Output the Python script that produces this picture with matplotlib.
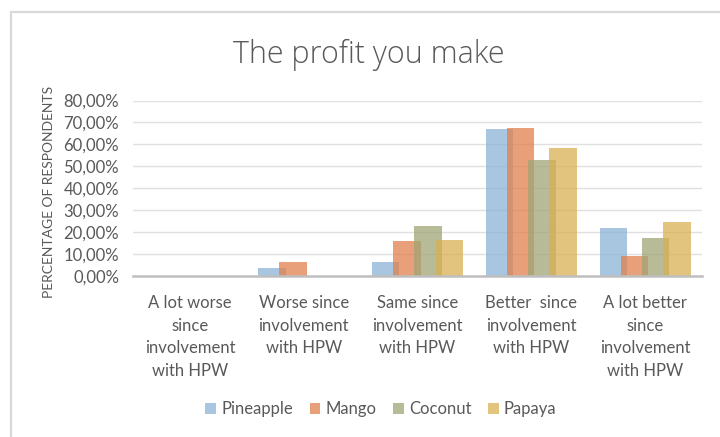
import matplotlib
matplotlib.use("Agg")
import matplotlib.pyplot as plt
import numpy as np
from matplotlib.patches import Rectangle
from matplotlib.ticker import FuncFormatter

categories = ["A lot worse\nsince\ninvolvement\nwith HPW",
              "Worse since\ninvolvement\nwith HPW",
              "Same since\ninvolvement\nwith HPW",
              "Better  since\ninvolvement\nwith HPW",
              "A lot better\nsince\ninvolvement\nwith HPW"]
series_names = ["Pineapple", "Mango", "Coconut", "Papaya"]
pineapple = [0.0, 3.7, 6.1, 67.0, 21.6]
mango = [0.0, 6.1, 15.8, 67.4, 9.0]
coconut = [0.0, 0.0, 22.8, 52.8, 17.4]
papaya = [0.0, 0.0, 16.3, 58.2, 24.5]
yticks = [0, 10, 20, 30, 40, 50, 60, 70, 80]

colors = ["#8bb3d5", "#e1804d", "#a0a575", "#d9b053"]
values = [pineapple, mango, coconut, papaya]

plt.rcParams['font.family'] = ['Lato', 'DejaVu Sans']
text_color = "#595959"

fig = plt.figure(figsize=(7.2, 4.37), dpi=100)
fig.patches.append(Rectangle((11/720, -0.1), 1.2, (437-12)/437 + 0.1, transform=fig.transFigure,
                             fill=False, edgecolor="#d9d9d9", linewidth=1.6))

ax = fig.add_axes([133/720, (437-275.7)/437, (702-133)/720, (275.7-100.5)/437])
x = np.arange(len(categories))
stride = 0.186
width = 0.24
for i, (vals, c, name) in enumerate(zip(values, colors, series_names)):
    ax.bar(x + (i - 1.5) * stride, vals, width=width, color=c, alpha=0.75, label=name, zorder=3)

ax.set_xlim(-0.5, 4.5)
ax.set_ylim(0, 80)
ax.set_yticks(yticks)
ax.yaxis.set_major_formatter(FuncFormatter(lambda v, p: f"{v:.2f}%".replace(".", ",")))
ax.set_xticks(x)
ax.set_xticklabels(categories, linespacing=1.5)
ax.grid(axis='y', color="#e0e0e0", linewidth=1, zorder=0)
for s in ["top", "right", "left"]:
    ax.spines[s].set_visible(False)
ax.spines["bottom"].set_color("#bfbfbf")
ax.spines["bottom"].set_linewidth(1.8)
ax.spines["bottom"].set_zorder(4)
ax.tick_params(axis='both', length=0, labelsize=12, colors=text_color, pad=10)
ax.tick_params(axis='x', pad=14)

fig.text(49/720, 1 - 192/437, "PERCENTAGE OF RESPONDENTS", rotation=90, ha='center', va='center',
         fontsize=10, color=text_color)

fig.text(369/720, 1 - 55/437, "The profit you make", ha='center', va='center',
         fontsize=22, color=text_color, fontfamily=['Open Sans', 'DejaVu Sans'], fontweight='light')

leg = fig.legend(loc='center', bbox_to_anchor=(381/720, 1 - 409/437), ncol=4, frameon=False,
                 fontsize=12, handlelength=0.65, handleheight=0.65, handletextpad=0.3,
                 columnspacing=1.0, labelcolor=text_color)

fig.savefig("out.png", dpi=100)
